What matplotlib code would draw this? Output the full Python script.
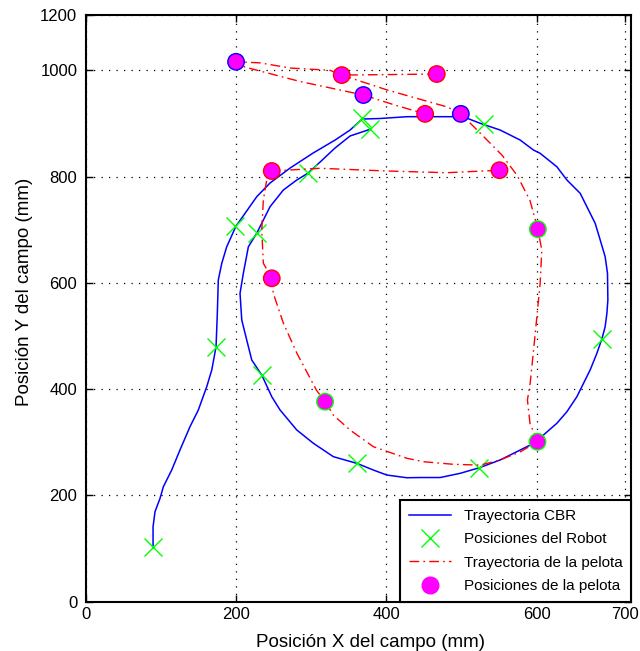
import matplotlib
matplotlib.use("Agg")
import matplotlib.pyplot as plt
import numpy as np

plt.rcParams["font.family"] = ["Liberation Sans", "DejaVu Sans"]

# Robot path recorded by the CBR controller (mm)
cbr_x = [89.6, 89.6, 92.2, 98.9, 103.3, 114.4, 125.4, 138.7, 149.8, 161.0, 167.7, 173.4,
         175.1, 176.4, 181.0, 187.6, 200.0, 212.0, 227.5, 245.2, 271.9, 302.5, 331.8, 351.7,
         367.7, 391.6, 427.5, 462.2, 502.1, 524.7, 551.3, 577.9, 595.6, 604.5, 626.7, 640.1,
         657.8, 666.7, 677.7, 684.4, 691.0, 694.1, 694.6, 693.3, 691.0, 686.6, 680.0, 671.0,
         657.8, 653.4, 640.1, 626.7, 608.9, 600.9, 586.8, 573.5, 551.3, 523.8, 498.1, 471.5,
         444.9, 427.1, 400.5, 382.7, 360.6, 329.5, 302.9, 280.8, 258.6, 247.5, 234.2, 220.9,
         214.2, 207.6, 205.3, 209.7, 216.4, 227.5, 245.2, 262.9, 280.8, 295.4, 311.8, 331.7,
         351.7, 378.3]
cbr_y = [103.5, 141.1, 169.4, 194.6, 216.4, 247.8, 285.5, 329.3, 360.7, 404.6, 436.0, 479.9,
         542.7, 605.4, 636.8, 668.0, 707.0, 730.9, 762.1, 787.9, 816.1, 844.3, 868.8, 887.6,
         908.3, 909.3, 912.7, 912.7, 912.7, 900.3, 887.6, 868.8, 850.0, 843.8, 818.6, 793.6,
         768.5, 743.3, 712.1, 680.7, 649.2, 618.0, 567.7, 542.7, 517.5, 494.4, 467.5, 436.0,
         398.4, 385.8, 357.5, 335.7, 313.7, 301.1, 291.7, 282.3, 266.7, 252.2, 241.6, 233.7,
         233.7, 233.3, 238.4, 247.8, 260.4, 272.9, 298.1, 323.1, 360.7, 385.8, 426.6, 454.8,
         492.5, 530.1, 580.4, 618.0, 668.0, 693.3, 743.3, 774.7, 793.6, 806.2, 827.4, 853.8,
         876.4, 889.0]

# Robot positions at each sampling instant
robot_x = [89.5, 173.4, 198.7, 367.3, 530.4, 686.6, 523.8, 360.6, 234.0, 227.5, 295.4, 378.3]
robot_y = [103.5, 480.0, 707.0, 909.6, 899.0, 494.0, 252.0, 260.4, 426.6, 693.0, 806.0, 889.0]

# Ball trajectory (NaN separates the two traced stretches)
ball_traj_x = [467.0, 405.0, 340.6, 325.0, 271.8, 232.0, 200.0, 212.0, 285.0, 369.4, 411.6, 451.5,
               np.nan,
               340.6, 401.0, 481.0, 499.0, 520.7, 554.0, 574.0, 591.0, 601.5, 606.7, 604.5,
               598.0, 591.3, 587.6, 591.0, 601.0, 578.0, 551.0, 525.0, 489.0, 449.0, 427.0,
               382.7, 351.7, 329.5, 318.4, 307.0, 281.0, 263.0, 249.6, 247.5, 236.3, 234.2,
               236.3, 240.8, 247.5, 311.8, 400.5, 480.4, 550.4]
ball_traj_y = [993.0, 992.0, 991.0, 1000.0, 1004.3, 1014.0, 1016.0, 1006.0, 979.0, 953.5, 934.5, 918.0,
               np.nan,
               991.0, 963.0, 931.0, 918.0, 887.6, 840.0, 802.0, 755.0, 701.0, 661.8, 599.0,
               505.0, 411.6, 379.6, 335.7, 301.0, 282.0, 266.7, 257.0, 258.6, 263.5, 270.0,
               291.7, 323.0, 351.0, 376.4, 398.0, 467.4, 524.0, 580.0, 608.6, 637.0, 699.5,
               756.0, 793.6, 810.5, 815.6, 810.5, 807.3, 812.0]

# Sampled ball positions
ball_x = [200.0, 340.6, 467.0, 369.4, 451.5, 499.0, 247.5, 550.4, 601.5, 247.5, 318.4, 601.0]
ball_y = [1016.0, 991.0, 993.0, 953.5, 918.0, 918.0, 810.5, 812.0, 701.0, 608.6, 376.4, 301.0]
ball_edge = ["#0000ff", "#ff0000", "#ff0000", "#0000ff", "#ff0000", "#0000ff",
             "#ff0000", "#ff0000", "#00ff00", "#ff0000", "#00ff00", "#00ff00"]

x_ticks = [0, 200, 400, 600, 718]
x_tick_labels = ["0", "200", "400", "600", "700"]
y_ticks = [0, 200, 400, 600, 800, 1000, 1104]
y_tick_labels = ["0", "200", "400", "600", "800", "1000", "1200"]

fig = plt.figure(figsize=(6.4, 6.51), dpi=100)
ax = fig.add_axes([0.1339, 0.0757, 0.8516, 0.9012])

ax.plot(cbr_x, cbr_y, color="#0000ff", lw=1.1, label="Trayectoria CBR", zorder=3)
ax.plot(robot_x, robot_y, ls="none", marker="x", ms=13, mew=1.0, color="#00ff00",
        label="Posiciones del Robot", zorder=4)
ax.plot(ball_traj_x, ball_traj_y, color="#ff0000", lw=1.0, ls=(0, (7, 3, 1.2, 3)),
        label="Trayectoria de la pelota", zorder=5)
ax.scatter(ball_x, ball_y, s=140, c="#ff00ff", edgecolors=ball_edge, linewidths=1.0,
           zorder=6)
ax.plot([], [], ls="none", marker="o", ms=12, color="#ff00ff", mec="#ff00ff",
        label="Posiciones de la pelota")

ax.set_xlim(0, 725)
ax.set_ylim(0, 1104)
ax.set_xticks(x_ticks)
ax.set_xticklabels(x_tick_labels)
ax.set_yticks(y_ticks)
ax.set_yticklabels(y_tick_labels)
ax.tick_params(direction="in", length=5, width=1.0, top=True, right=True,
               labelsize=12, colors="black")
ax.tick_params(axis="y", pad=6)
ax.tick_params(axis="x", pad=4)
ax.grid(True, color="black", ls=(0, (1, 5)), lw=0.9)
for s in ax.spines.values():
    s.set_linewidth(1.5)

fig.text(371 / 640, 1 - 647 / 651, "Posición X del campo (mm)", ha="center",
         va="baseline", fontsize=13.5)
fig.text(25 / 640, 1 - 292 / 651, "Posición Y del campo (mm)", ha="center",
         va="center", rotation=90, fontsize=13.5)

leg = ax.legend(loc="lower right", borderaxespad=0, fontsize=11, frameon=True,
                fancybox=False, framealpha=1, edgecolor="black", numpoints=1,
                handlelength=2.8, handletextpad=0.8, labelspacing=0.62, borderpad=0.55)
leg.get_frame().set_linewidth(1.5)

fig.savefig("out.png", dpi=100)
